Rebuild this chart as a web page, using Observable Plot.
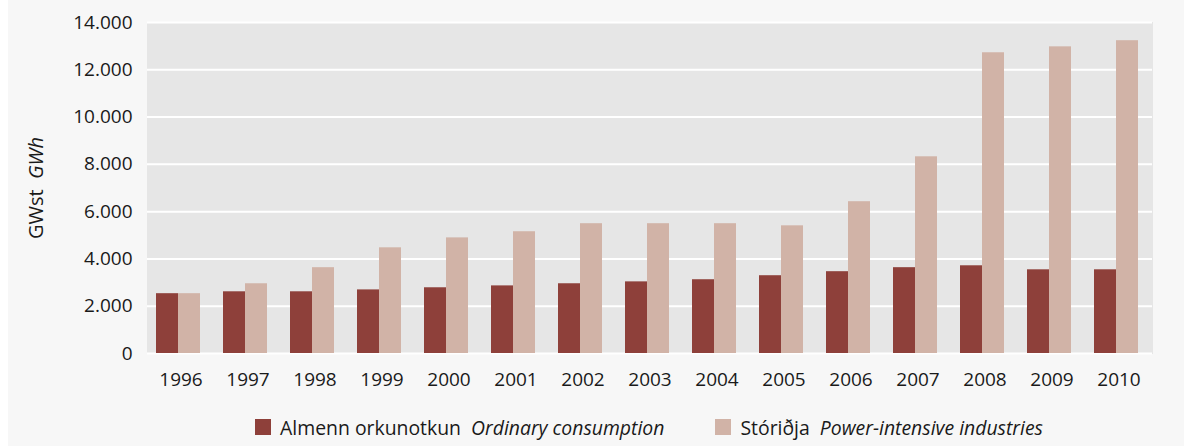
<!DOCTYPE html>
<html>
<head>
<meta charset="utf-8">
<script src="https://cdn.jsdelivr.net/npm/d3@7"></script>
<script src="https://cdn.jsdelivr.net/npm/@observablehq/plot@0.6"></script>
<style>
  html, body { margin: 0; padding: 0; background: #ffffff; }
  #wrap { position: relative; margin-left: 8px; width: 1176px; height: 446px; background: #f7f7f7; overflow: hidden; font-family: "Open Sans", sans-serif; color: #1a1a1a; }
  #chart svg { display: block; }
  #ylabel { position: absolute; left: 27px; top: 188px; transform: translate(-50%, -50%) rotate(-90deg); font-size: 20px; white-space: nowrap; line-height: 1.35; }
  #legend { position: absolute; left: 137px; width: 1008px; top: 412px; height: 30px; display: flex; justify-content: center; align-items: center; gap: 51px; font-size: 19.4px; }
  .item { display: flex; align-items: center; gap: 9px; white-space: nowrap; }
  .sw { width: 16px; height: 16px; display: inline-block; }
</style>
</head>
<body>
<div id="wrap">
  <div id="chart"></div>
  <div id="ylabel">GWst&nbsp;&nbsp;<i>GWh</i></div>
  <div id="legend"></div>
</div>
<script>
const years = ["1996","1997","1998","1999","2000","2001","2002","2003","2004","2005","2006","2007","2008","2009","2010"];
const seriesNames = ["Almenn orkunotkun", "Stóriðja"];
const seriesEnglish = ["Ordinary consumption", "Power-intensive industries"];
const ordinary = [2530, 2610, 2610, 2690, 2780, 2860, 2950, 3030, 3120, 3290, 3460, 3630, 3710, 3540, 3540];
const industry = [2530, 2950, 3630, 4470, 4890, 5150, 5490, 5490, 5490, 5400, 6420, 8320, 12720, 12970, 13230];
const yTicks = [0, 2000, 4000, 6000, 8000, 10000, 12000, 14000];
const colors = ["#8e403a", "#d1b3a7"];

const data = [];
years.forEach((y, i) => {
  data.push({year: y, series: seriesNames[0], value: ordinary[i]});
  data.push({year: y, series: seriesNames[1], value: industry[i]});
});

const locale = d3.formatLocale({decimal: ",", thousands: ".", grouping: [3], currency: ["", ""]});
const fmt = locale.format(",");

const chart = Plot.plot({
  width: 1176,
  height: 400,
  marginLeft: 137,
  marginRight: 31,
  marginTop: 22,
  marginBottom: 47,
  style: {fontFamily: "'Open Sans', sans-serif", fontSize: "19px", color: "#1a1a1a", background: "transparent", overflow: "visible"},
  fx: {domain: years, padding: 0, label: null},
  x: {domain: seriesNames, paddingInner: 0, paddingOuter: 0.49, align: 0.4, axis: null},
  y: {domain: [0, 14000], label: null},
  color: {domain: seriesNames, range: colors},
  marks: [
    Plot.frame({fill: "#e6e6e6", stroke: "#e6e6e6", strokeWidth: 1}),
    Plot.gridY(yTicks, {stroke: "#ffffff", strokeOpacity: 1, strokeWidth: 2}),
    Plot.barY(data, {fx: "year", x: "series", y: "value", fill: "series"}),
    Plot.axisY(yTicks, {tickSize: 0, tickPadding: 15, tickFormat: fmt, label: null, fill: "#1a1a1a"}),
    Plot.axisFx({anchor: "bottom", tickSize: 0, tickPadding: 19, label: null, fill: "#1a1a1a"})
  ]
});
document.getElementById("chart").appendChild(chart);

const legend = document.getElementById("legend");
seriesNames.forEach((s, i) => {
  const item = document.createElement("div");
  item.className = "item";
  item.innerHTML = `<span class="sw" style="background:${colors[i]}"></span><span>${s}&nbsp; <i>${seriesEnglish[i]}</i></span>`;
  legend.appendChild(item);
});
</script>
</body>
</html>
